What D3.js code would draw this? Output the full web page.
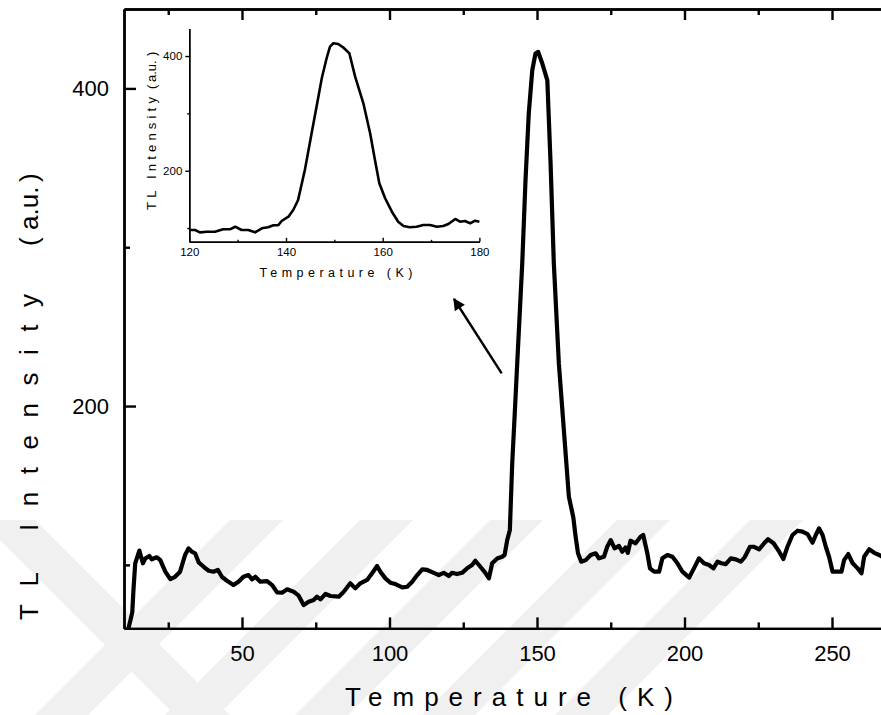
<!DOCTYPE html>
<html>
<head>
<meta charset="utf-8">
<script src="https://cdn.jsdelivr.net/npm/d3@7"></script>
<style>
  body { margin: 0; background: #fff; }
  text { font-family: Arial, "Liberation Sans", sans-serif; }
</style>
</head>
<body>
<svg id="chart" width="881" height="715"></svg>
<script>
// main TL glow curve
const mainTemp = [11.5, 12.8, 13.2, 13.8, 15.2, 16.4, 17.2, 18.6, 19.4, 21.1, 22.3, 24.0, 25.7, 27.3, 29.0, 30.7, 31.9, 33.0, 34.1, 35.3,
  37.0, 38.7, 40.3, 41.8, 43.2, 44.9, 47.1, 48.8, 50.5, 52.2, 53.4, 54.5, 56.2, 58.5, 60.2, 61.9, 63.6, 65.3, 67.5, 69.2,
  70.9, 72.6, 74.3, 75.4, 76.6, 78.3, 80.0, 82.8, 84.5, 86.7, 88.4, 90.1, 92.4, 94.1, 95.8, 96.9, 98.6, 100.3, 102.0, 104.3,
  106.0, 107.7, 109.4, 111.1, 112.8, 115.0, 116.7, 118.4, 120.1, 121.2, 122.9, 124.6, 126.3, 128.0, 129.1, 130.8, 132.5, 133.7, 134.8, 136.5,
  138.2, 139.0, 139.9, 140.8, 141.6, 142.5, 143.3, 145.0, 146.1, 147.2, 148.4, 149.5, 150.4, 151.8, 153.5, 154.6, 155.7, 157.4, 159.1, 160.8,
  162.3, 163.1, 163.9, 165.0, 166.5, 168.2, 169.9, 171.0, 172.7, 173.8, 175.0, 176.3, 177.8, 178.9, 180.0, 180.8, 181.7, 183.4, 185.1, 186.0,
  187.4, 188.3, 189.7, 191.4, 192.5, 194.2, 195.9, 197.6, 199.3, 201.6, 203.2, 204.9, 206.6, 208.3, 209.8, 211.2, 212.5, 214.0, 215.7, 217.4,
  219.1, 220.4, 222.2, 223.6, 225.3, 227.0, 228.3, 230.2, 232.1, 233.5, 234.9, 236.6, 238.3, 240.0, 241.7, 243.4, 244.5, 245.6, 246.8, 247.9,
  249.0, 250.2, 251.9, 253.2, 254.1, 255.5, 257.0, 258.7, 260.0, 260.9, 262.6, 264.3, 266.0, 267.1, 270.0];
const mainTL = [60, 70, 84, 101, 109, 101, 104, 105.6, 103.5, 104.8, 103, 95.7, 91, 92.5, 95.7, 106.2, 110.4, 108.3, 107.3, 101.6,
  98.8, 96.3, 95.7, 96.8, 92.5, 90, 87.3, 89.4, 92.5, 93.6, 90.9, 92.5, 89.4, 89.8, 87.3, 82.7, 82.5, 84.6, 83.1, 80.6,
  74.7, 76.8, 77.9, 80, 78.3, 81.7, 80.4, 80, 83.1, 88.4, 85.2, 88.4, 90.5, 94.7, 99.3, 95.7, 91.5, 88.8, 87.9, 85.8,
  86.2, 89.4, 93.6, 97.2, 96.8, 95, 93.6, 95, 93, 95, 94.2, 95, 97.8, 99.9, 102.6, 98.8, 95, 91.5, 101, 104,
  105.1, 106.2, 115.6, 122, 164, 197, 227, 290, 342, 384, 411.5, 422, 423, 415.7, 405, 353, 290, 227, 185, 143,
  130, 117.7, 107.3, 102, 103, 106.2, 107.3, 104.1, 105.1, 111.4, 115.6, 110.4, 111.9, 108.3, 111, 107.6, 115.2, 113.6, 117.7, 118.8,
  107.3, 97.8, 95.7, 95.7, 104.1, 106.2, 105.1, 101, 95.7, 92, 97.8, 104.1, 101, 99.9, 97.8, 102, 101, 100.5, 104.1, 103.5,
  102, 104.8, 111.4, 111.4, 109.8, 113.6, 116.1, 113.6, 108.3, 103.7, 111.4, 118.8, 121.5, 120.9, 119.4, 113.9, 118.8, 123, 118.8, 111.4,
  105.1, 95.7, 95.7, 95.7, 103, 106.8, 101, 97.8, 94.7, 105.1, 109.8, 107.6, 106.2, 105.1, 104];

// inset: zoom on the peak
const insetTemp = [120.1, 121.2, 122.2, 123.6, 125.3, 127.0, 128.4, 129.5, 130.8, 132.2, 133.6, 135.0, 136.3, 137.4, 138.4, 139.1, 140.5,
  141.5, 142.5, 143.9, 145.3, 146.7, 147.4, 148.4, 149.1, 149.8, 150.8, 151.8, 153.1, 154.3, 156.0, 157.4, 158.4, 159.3, 160.5,
  161.9, 163.2, 164.3, 165.6, 167.0, 168.4, 169.8, 171.2, 172.5, 173.6, 175.0, 176.0, 177.0, 178.1, 179.1, 180.0];
const insetTL = [96.6, 96.6, 92.5, 93.6, 93.6, 97.8, 97.8, 102.3, 96.6, 96.6, 92.5, 99.5, 101.3, 104.8, 104.8, 112.3, 119.8,
  131.4, 148.9, 201.2, 265.2, 329.1, 361.2, 396.1, 416.3, 422.2, 421, 415.2, 404.8, 364, 317.6, 265.2, 218.7, 178, 151.9,
  128.5, 111, 103.5, 101.3, 102.3, 105.3, 105.3, 102.3, 103.5, 107, 115.8, 111.1, 112.3, 108.3, 112.8, 111.1];

const xMajor = [50, 100, 150, 200, 250];
const xMinor = [25, 75, 125, 175, 225, 275];
const yMajor = [200, 400];
const yMinor = [100, 300];
const inXMajor = [120, 140, 160, 180];
const inXMinor = [130, 150, 170];
const inYMajor = [200, 400];
const inYMinor = [100, 300];

const svg = d3.select('#chart');

// faint watermark bands behind everything
const wm = svg.append('g').attr('fill', '#f0f0f0');
[230, 360, 490, 617, 750].forEach(function (x0) {
  wm.append('path').attr('d', `M${x0},520 L${x0 + 53},520 L${x0 - 142},715 L${x0 - 195},715 Z`);
});
wm.append('path').attr('d', 'M-20,520 L35,520 L230,715 L175,715 Z');

let x = d3.scaleLinear().domain([10, 280]).range([124, 920.5]);
let y = d3.scaleLinear().domain([60, 450]).range([628.4, 9]);

let mainLine = d3.line().x(d => x(d[0])).y(d => y(d[1]));
let mainData = mainTemp.map((t, i) => [t, mainTL[i]]);

svg.append('path')
  .datum(mainData)
  .attr('d', mainLine)
  .attr('fill', 'none')
  .attr('stroke', '#000')
  .attr('stroke-width', 4.2)
  .attr('stroke-linejoin', 'round');

function styleAxis(g, w) {
  g.selectAll('path, line').attr('stroke', '#000').attr('stroke-width', w);
  g.selectAll('text').attr('fill', '#000');
}

// bottom
svg.append('g')
  .attr('transform', 'translate(0,628.4)')
  .call(d3.axisBottom(x).tickValues(xMajor).tickSize(-11).tickSizeOuter(0).tickPadding(17))
  .call(g => styleAxis(g, 2.4))
  .selectAll('text').attr('font-size', 22);
svg.append('g')
  .attr('transform', 'translate(0,628.4)')
  .call(d3.axisBottom(x).tickValues(xMinor).tickSize(-6).tickSizeOuter(0).tickFormat(''))
  .call(g => styleAxis(g, 2.4));

// top
svg.append('g')
  .attr('transform', 'translate(0,9)')
  .call(d3.axisTop(x).tickValues(xMajor).tickSize(-11).tickSizeOuter(0).tickFormat(''))
  .call(g => styleAxis(g, 2.4));
svg.append('g')
  .attr('transform', 'translate(0,9)')
  .call(d3.axisTop(x).tickValues(xMinor).tickSize(-6).tickSizeOuter(0).tickFormat(''))
  .call(g => styleAxis(g, 2.4));

// left
svg.append('g')
  .attr('transform', 'translate(124,0)')
  .call(d3.axisLeft(y).tickValues(yMajor).tickSize(-12).tickSizeOuter(0).tickPadding(15))
  .call(g => styleAxis(g, 2.4))
  .selectAll('text').attr('font-size', 22);
svg.append('g')
  .attr('transform', 'translate(124,0)')
  .call(d3.axisLeft(y).tickValues(yMinor).tickSize(-6).tickSizeOuter(0).tickFormat(''))
  .call(g => styleAxis(g, 2.4));

svg.append('text')
  .attr('x', 509).attr('y', 706)
  .attr('text-anchor', 'middle')
  .attr('font-size', 26)
  .attr('textLength', 328).attr('lengthAdjust', 'spacing')
  .text('Temperature (K)');

// y title: spaced letters, "a.u." kept tight
let yTitle = svg.append('text')
  .attr('transform', 'translate(38,620) rotate(-90)')
  .attr('font-size', 26);
yTitle.append('tspan').attr('x', 0).attr('letter-spacing', 17.5).text('TL Intensity');
yTitle.append('tspan').attr('x', 374).text('(');
yTitle.append('tspan').attr('x', 390).text('a.u.');
yTitle.append('tspan').attr('x', 438).text(')');

// inset
let ix = d3.scaleLinear().domain([120, 180]).range([189.3, 479.4]);
let iy = d3.scaleLinear().domain([76, 448]).range([241.8, 28.5]);

let insetData = insetTemp.map((t, i) => [t, insetTL[i]]);
svg.append('path')
  .datum(insetData)
  .attr('d', d3.line().x(d => ix(d[0])).y(d => iy(d[1])))
  .attr('fill', 'none')
  .attr('stroke', '#000')
  .attr('stroke-width', 2.6)
  .attr('stroke-linejoin', 'round');

svg.append('g')
  .attr('transform', 'translate(0,241.8)')
  .call(d3.axisBottom(ix).tickValues(inXMajor).tickSize(-4).tickSizeOuter(0).tickPadding(6))
  .call(g => styleAxis(g, 1.4))
  .selectAll('text').attr('font-size', 11.5);
svg.append('g')
  .attr('transform', 'translate(0,241.8)')
  .call(d3.axisBottom(ix).tickValues(inXMinor).tickSize(-2).tickSizeOuter(0).tickFormat(''))
  .call(g => styleAxis(g, 1.4));

svg.append('g')
  .attr('transform', 'translate(189.3,0)')
  .call(d3.axisLeft(iy).tickValues(inYMajor).tickSize(4).tickSizeOuter(0).tickPadding(3))
  .call(g => styleAxis(g, 1.4))
  .selectAll('text').attr('font-size', 11.5);
svg.append('g')
  .attr('transform', 'translate(189.3,0)')
  .call(d3.axisLeft(iy).tickValues(inYMinor).tickSize(2).tickSizeOuter(0).tickFormat(''))
  .call(g => styleAxis(g, 1.4));

svg.append('text')
  .attr('x', 336).attr('y', 277)
  .attr('text-anchor', 'middle')
  .attr('font-size', 12.5)
  .attr('textLength', 153).attr('lengthAdjust', 'spacing')
  .text('Temperature (K)');

let iyTitle = svg.append('text')
  .attr('transform', 'translate(156,210) rotate(-90)')
  .attr('font-size', 13);
iyTitle.append('tspan').attr('x', 0).attr('letter-spacing', 4.2).text('TL Intensity');
iyTitle.append('tspan').attr('x', 121).text('(');
iyTitle.append('tspan').attr('x', 128).text('a.u.');
iyTitle.append('tspan').attr('x', 154).text(')');

// arrow pointing at the inset
svg.append('defs').append('marker')
  .attr('id', 'head')
  .attr('viewBox', '0 0 10 10')
  .attr('refX', 9).attr('refY', 5)
  .attr('markerWidth', 6).attr('markerHeight', 5)
  .attr('orient', 'auto')
  .attr('markerUnits', 'strokeWidth')
  .append('path').attr('d', 'M0,0 L10,5 L0,10 Z').attr('fill', '#000');

svg.append('line')
  .attr('x1', 501.7).attr('y1', 373.3)
  .attr('x2', 454).attr('y2', 299)
  .attr('stroke', '#000')
  .attr('stroke-width', 2.4)
  .attr('marker-end', 'url(#head)');
</script>
</body>
</html>
